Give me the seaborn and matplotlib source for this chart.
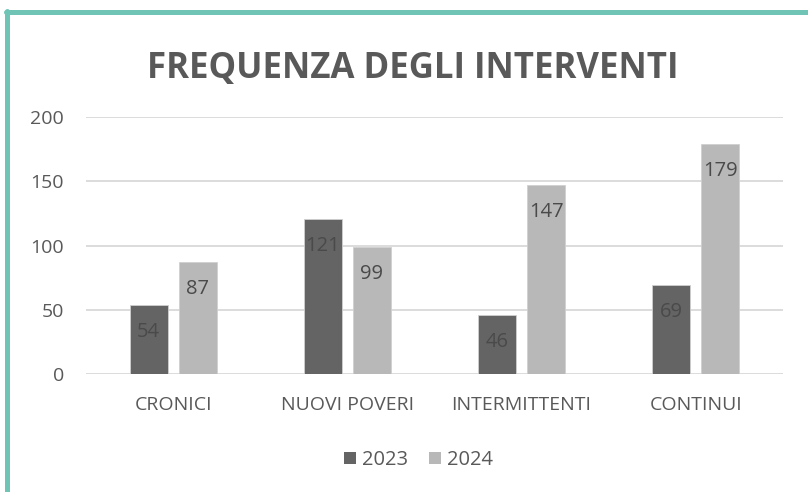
import matplotlib
matplotlib.use("Agg")
import matplotlib.pyplot as plt
import pandas as pd
import seaborn as sns
from matplotlib.lines import Line2D
from matplotlib.patches import Patch

# dati
categorie = ["CRONICI", "NUOVI POVERI", "INTERMITTENTI", "CONTINUI"]
anni = ["2023", "2024"]
valori_2023 = [54, 121, 46, 69]
valori_2024 = [87, 99, 147, 179]
y_ticks = [0, 50, 100, 150, 200]

colori = {"2023": "#646464", "2024": "#b8b8b8"}
testo = "#595959"
teal = "#70c4b5"

df = pd.DataFrame({
    "categoria": categorie * 2,
    "anno": ["2023"] * len(categorie) + ["2024"] * len(categorie),
    "valore": valori_2023 + valori_2024,
})

sns.set_theme(style="white")
plt.rcParams["font.family"] = ["Open Sans", "DejaVu Sans"]

fig = plt.figure(figsize=(8.08, 4.92), dpi=100)
ax = fig.add_axes([0.1064, 0.240, 0.8626, 0.522])

sns.barplot(data=df, x="categoria", y="valore", hue="anno", order=categorie,
            hue_order=anni, palette=colori, width=0.564, gap=0.227,
            edgecolor="#d0d0d0", linewidth=0.6, legend=False, ax=ax, zorder=3)

# etichette dei valori dentro le barre
for cont in ax.containers:
    for bar in cont:
        h = bar.get_height()
        ax.annotate(f"{h:.0f}", (bar.get_x() + bar.get_width() / 2, h),
                    xytext=(0, -19.5), textcoords="offset points",
                    ha="center", va="center", fontsize=14.5, color="#4a4a4a",
                    zorder=4)

ax.set_ylim(0, 200)
ax.set_xlim(-0.5, 3.5)
ax.set_yticks(y_ticks)
ax.yaxis.grid(True, color="#d9d9d9", linewidth=1.3, zorder=0)
ax.set_axisbelow(True)
for s in ax.spines.values():
    s.set_visible(False)
ax.tick_params(axis="both", length=0, labelsize=14, colors=testo)
ax.tick_params(axis="x", pad=16)
ax.tick_params(axis="y", pad=15.8)
ax.set_xlabel("")
ax.set_ylabel("")

fig.text(0.511, 0.8415, "FREQUENZA DEGLI INTERVENTI", ha="center",
         va="baseline", fontsize=25, fontweight="bold", color=testo)

handles = [Patch(facecolor=colori[a], edgecolor="none") for a in anni]
fig.legend(handles, anni, loc="center", bbox_to_anchor=(0.518, 0.065), ncol=2,
           frameon=False, fontsize=14.5, handlelength=0.6, handleheight=0.6,
           handletextpad=0.3, columnspacing=1.0, labelcolor=testo)

# bordo verde acqua (sopra e a sinistra)
fig.add_artist(Line2D([0.007, 1.0], [0.975, 0.975], color=teal, linewidth=3.6,
                      transform=fig.transFigure))
fig.add_artist(Line2D([0.0085, 0.0085], [0.0, 0.977], color=teal, linewidth=3.6,
                      transform=fig.transFigure))

fig.savefig("out.png", dpi=100, facecolor="white")
